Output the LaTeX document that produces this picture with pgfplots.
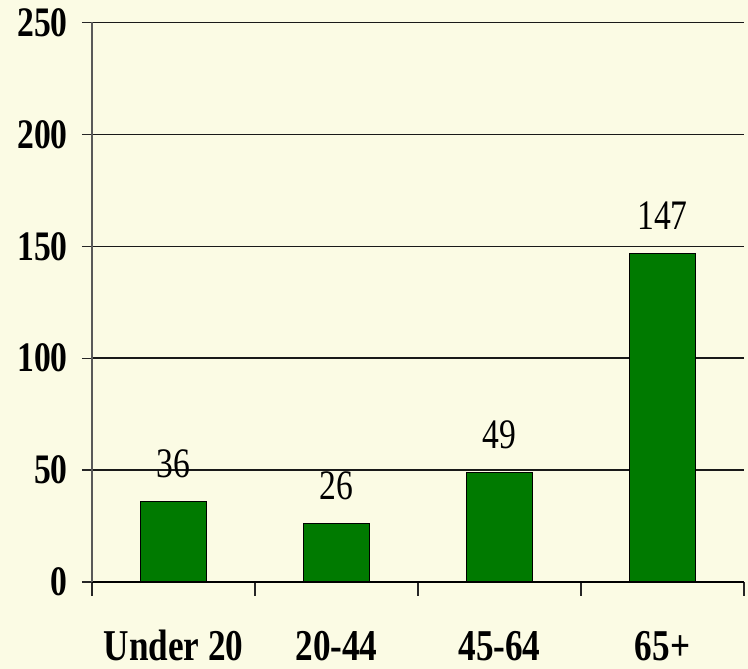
\documentclass[border=0pt]{standalone}
\usepackage{fontspec}
\setmainfont{Liberation Serif}
\newfontfamily\cf[FakeStretch=0.8]{Liberation Serif}
\usepackage{pgfplots}
\pgfplotsset{compat=1.18}
\definecolor{bg}{RGB}{251,251,228}
\definecolor{bargreen}{RGB}{0,122,0}
\begin{document}
\begin{tikzpicture}[x=1pt,y=1pt]
\fill[bg] (0,0) rectangle (748,669);
\path[use as bounding box] (0,0) rectangle (748,669);
\begin{axis}[
  at={(92pt,87pt)}, anchor=south west,
  scale only axis, width=652pt, height=559.5pt,
  xmin=-0.5, xmax=3.5, ymin=0, ymax=250,
  enlargelimits=false,
  axis x line*=bottom, axis y line*=left,
  axis line style={-},
  x axis line style={black, line width=1.3pt},
  y axis line style={black!65, line width=1.6pt},
  ymajorgrids, grid style={black!90, line width=1.4pt},
  ytick={0,50,...,250},
  yticklabels={0,50,100,150,200,250},
  xtick={0,1,2,3}, xticklabels={Under 20,20-44,45-64,65+},
  minor xtick={-0.5,0.5,1.5,2.5,3.5},
  tick align=outside,
  major tick length=10pt, minor tick length=14pt,
  tick style={black!85, line width=1.3pt},
  major x tick style={draw=none},
  /pgf/number format/assume math mode=true,
  yticklabel style={font=\cf\bfseries\fontsize{42}{42}\selectfont, anchor=east, inner sep=0pt, xshift=-14pt},
  xticklabel style={font=\cf\bfseries\fontsize{44}{44}\selectfont, anchor=base, inner sep=0pt, yshift=-69pt},
  ybar, bar width=66pt,
  nodes near coords,
  nodes near coords style={font=\cf\fontsize{42}{42}\selectfont, anchor=base, inner sep=0pt, yshift=24pt, black},
]
\addplot[fill=bargreen, draw=black, line width=1pt] coordinates {(0,36)(1,26)(2,49)(3,147)};
\end{axis}
\end{tikzpicture}
\end{document}
